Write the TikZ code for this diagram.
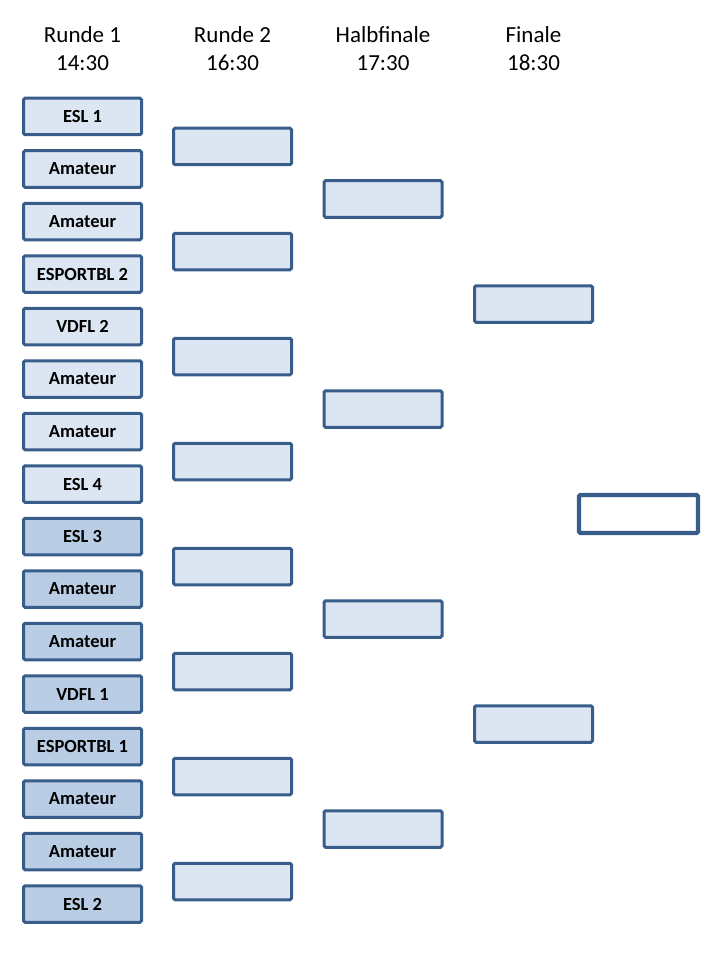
\documentclass[tikz,border=0pt]{standalone}
\usepackage{fontspec}
\setmainfont{Carlito}
\definecolor{boxborder}{HTML}{385D8A}
\definecolor{lightfill}{HTML}{DCE6F2}
\definecolor{darkfill}{HTML}{B9CDE5}
\tikzset{
  slot/.style={draw=boxborder, line width=3pt, rounded corners=1.5pt, fill=lightfill,
    minimum width=118pt, minimum height=36.5pt, inner sep=0pt,
    font=\fontsize{18.5}{20}\selectfont\bfseries},
  darkslot/.style={slot, fill=darkfill},
  winner/.style={draw=boxborder, line width=4.3pt, rounded corners=1.5pt, fill=white,
    minimum width=119pt, minimum height=38pt, inner sep=0pt},
  head/.style={anchor=base, inner sep=0pt, font=\fontsize{23}{28}\selectfont}
}
\begin{document}
\begin{tikzpicture}[x=1pt,y=-1pt]
\useasboundingbox (0,0) rectangle (720,960);
% headers
\node[head] (h1a) at (82.5,43) {Runde 1};
\node[head] (h1b) at (82.5,71) {14:30};
\node[head] (h2a) at (232.5,43) {Runde 2};
\node[head] (h2b) at (232.5,71) {16:30};
\node[head] (h3a) at (383,43) {Halbfinale};
\node[head] (h3b) at (383,71) {17:30};
\node[head] (h4a) at (533.5,43) {Finale};
\node[head] (h4b) at (533.5,71) {18:30};
% round 1
\node[slot] (r1a) at (82.5,116.5) {ESL 1};
\node[slot] (r1b) at (82.5,169) {Amateur};
\node[slot] (r1c) at (82.5,221.5) {Amateur};
\node[slot] (r1d) at (82.5,274) {ESPORTBL 2};
\node[slot] (r1e) at (82.5,326.5) {VDFL 2};
\node[slot] (r1f) at (82.5,379) {Amateur};
\node[slot] (r1g) at (82.5,431.5) {Amateur};
\node[slot] (r1h) at (82.5,484) {ESL 4};
\node[darkslot] (r1i) at (82.5,536.5) {ESL 3};
\node[darkslot] (r1j) at (82.5,589) {Amateur};
\node[darkslot] (r1k) at (82.5,641.5) {Amateur};
\node[darkslot] (r1l) at (82.5,694) {VDFL 1};
\node[darkslot] (r1m) at (82.5,746.5) {ESPORTBL 1};
\node[darkslot] (r1n) at (82.5,799) {Amateur};
\node[darkslot] (r1o) at (82.5,851.5) {Amateur};
\node[darkslot] (r1p) at (82.5,904) {ESL 2};
% round 2
\foreach \i in {0,...,7} {
  \node[slot] (r2\i) at (232.5,146.5+105*\i) {};
}
% semifinal
\foreach \i in {0,...,3} {
  \node[slot] (sf\i) at (383,199+210*\i) {};
}
% final
\node[slot] (f0) at (533.5,304) {};
\node[slot] (f1) at (533.5,724) {};
% winner
\node[winner] (w) at (638.5,514) {};
\end{tikzpicture}
\end{document}
